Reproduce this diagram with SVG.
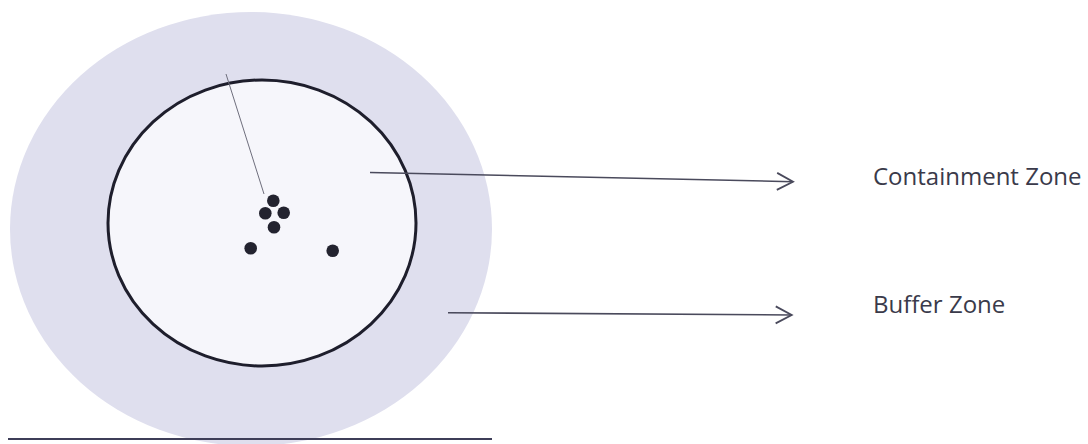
<svg xmlns="http://www.w3.org/2000/svg" width="1088" height="444" viewBox="0 0 1088 444">
  <style>
    .lbl { font-family: "Open Sans", "Liberation Sans", sans-serif; font-size: 24px; fill: #3a3a4a; }
    .conn { stroke: #4a4a5c; stroke-width: 1.6; fill: none; }
    .dot { fill: #23232f; }
  </style>
  <defs>
    <marker id="chev" viewBox="0 0 20 20" refX="18" refY="10" markerWidth="20" markerHeight="20" markerUnits="userSpaceOnUse" orient="auto">
      <path d="M2,1.5 L18,10 L2,18.5" fill="none" stroke="#4a4a5c" stroke-width="1.8"/>
    </marker>
  </defs>
  <rect width="1088" height="444" fill="#ffffff"/>
  <g id="buffer-zone">
    <ellipse cx="251" cy="229" rx="241" ry="217" fill="#dfdfee"/>
  </g>
  <g id="containment-zone">
    <ellipse cx="262" cy="223" rx="154" ry="143" fill="#f6f6fb" stroke="#1e1e2c" stroke-width="3"/>
  </g>
  <g id="points">
    <line x1="226" y1="74" x2="264" y2="194" stroke="#6e6e7c" stroke-width="1"/>
    <circle class="dot" cx="273.3" cy="200.7" r="6.3"/>
    <circle class="dot" cx="265.3" cy="213.3" r="6.3"/>
    <circle class="dot" cx="283.7" cy="212.7" r="6.3"/>
    <circle class="dot" cx="274" cy="227.3" r="6.3"/>
    <circle class="dot" cx="250.7" cy="248.3" r="6.3"/>
    <circle class="dot" cx="332.7" cy="250.7" r="6.3"/>
  </g>
  <g id="ground">
    <line x1="8" y1="439" x2="492" y2="439" stroke="#3e3e58" stroke-width="2"/>
  </g>
  <g id="connectors">
    <line class="conn" x1="370" y1="172.5" x2="793" y2="181.7" marker-end="url(#chev)"/>
    <line class="conn" x1="448" y1="312.7" x2="791.7" y2="315" marker-end="url(#chev)"/>
  </g>
  <g id="label-containment">
    <text class="lbl" x="873" y="185">Containment Zone</text>
  </g>
  <g id="label-buffer">
    <text class="lbl" x="873" y="313">Buffer Zone</text>
  </g>
</svg>
